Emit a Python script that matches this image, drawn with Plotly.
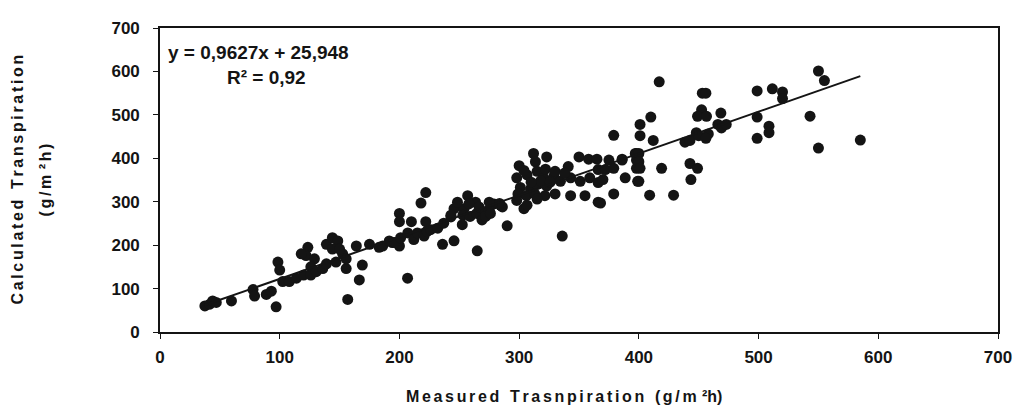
import plotly.graph_objects as go

# Measured (x) and calculated (y) transpiration, g/m2h
measured = [
    37.5, 41.6, 44, 47, 59.7, 77.7, 79, 88.8, 93, 97, 98.5, 100, 102.5, 108, 114, 120, 126,
    123.5, 122, 118, 129, 126, 130.5, 136, 139, 144, 148.5, 144, 139, 147, 152.6, 155.5,
    156.8, 150, 155.5,
    164, 166.5, 169, 175, 183, 186, 191.5, 194, 200, 196, 201, 207, 212, 215, 220.6, 223,
    226, 232, 237, 243, 200, 200, 210, 222, 222, 218, 206.8, 236, 245.6, 265, 245.6, 254,
    243, 253, 259, 264.6, 252.5, 269, 248.5, 257, 263.6, 258, 266.5, 272, 279, 284.5, 275,
    272, 275, 283.6, 286, 290, 276, 304,
    300, 312, 323, 313.6, 341, 350, 358, 365, 375, 386, 398,
    298, 306.6, 315, 320.6, 329, 334.5, 343, 351, 359,
    301, 309.5, 315, 323, 299, 306, 313, 321.5, 330, 298, 306.6, 315,
    343, 355, 366, 379, 336, 366, 372, 379, 386, 397, 398, 398, 388.6, 399, 366, 370,
    409, 429, 368, 318, 326, 310, 304, 322, 330, 338,
    400, 400, 401, 400, 401, 401, 410, 412, 419, 417, 438.5, 442.7, 442.7, 449, 443.5,
    448, 450, 458, 456, 452.4, 449, 456.5, 466, 469, 473, 468.5, 453, 456, 498.8, 511.5,
    520, 520, 550, 555, 543, 585, 550, 498.8, 498.8, 508.7, 508.7, 379,
]
calculated = [
    60, 64, 71.6, 68, 71.6, 97.8, 82.8, 86.6, 94, 58, 161, 142.5, 116, 116, 124, 131, 131,
    195, 176, 180, 168.5, 150, 139, 146, 202, 217, 209.6, 191, 157, 161, 180, 146,
    75, 191, 168.5,
    198, 120, 154, 202, 195, 198, 209.6, 206, 198, 206, 217, 228, 213, 228, 221, 232,
    235.6, 239, 250.6, 265, 273, 254, 254, 254, 321, 297, 124, 202, 210, 187, 284, 284,
    269, 269, 266, 273, 247, 258, 299, 314, 299, 295, 288, 276.7, 295, 291.6, 280,
    266, 299, 296, 288, 244.5, 273, 284,
    383, 411, 403, 392, 381, 403, 398, 398, 396, 398, 411,
    355, 362, 370, 355, 359, 347, 355, 347, 355,
    333, 329, 340, 336, 318, 314, 318, 314, 318, 303, 292, 306,
    314, 314, 299, 318, 221, 374, 374, 377, 396, 411, 396, 377, 355, 347, 344, 351,
    315, 315, 297, 348, 345, 345, 372, 375, 370, 366,
    411, 392, 377, 347, 478, 452, 495, 441, 377, 576, 437, 441, 388, 377, 351,
    459, 452, 456, 446, 511.6, 496.6, 496.6, 478, 470, 478, 504, 550, 550, 555, 560,
    552.6, 537.6, 601, 579, 497, 442, 423.5, 495, 446, 474, 459, 453,
]

# Linear trend from the chart
slope = 0.9627
intercept = 25.948
trend_x = [min(measured), max(measured)]
trend_y = [slope * v + intercept for v in trend_x]

x_ticks = [0, 100, 200, 300, 400, 500, 600, 700]
y_ticks = [0, 100, 200, 300, 400, 500, 600, 700]

SP = "\u2006"
WORD = "\u2002\u2006"


def spaced(s):
    out = []
    for i, ch in enumerate(s):
        if ch == " ":
            out.append(WORD)
            continue
        out.append(ch)
        if i < len(s) - 1 and s[i + 1] != " ":
            out.append(SP)
    return "".join(out)


FONT = "Liberation Sans, Arial, sans-serif"
INK = "#141414"

# page body has an 8px default margin: plot area = 160..1001 px, 19..332 px
fig = go.Figure()
fig.add_trace(go.Scatter(
    x=measured, y=calculated, mode="markers",
    marker=dict(color=INK, size=11, line=dict(width=0)),
    showlegend=False,
))
fig.add_trace(go.Scatter(
    x=trend_x, y=trend_y, mode="lines",
    line=dict(color=INK, width=2), showlegend=False,
))

axis_common = dict(
    showgrid=False, zeroline=False, showline=True, linecolor=INK, linewidth=1.6,
    mirror=True, ticks="outside", ticklen=5, tickwidth=1.3, tickcolor=INK,
    tickfont=dict(family=FONT, size=17, color=INK, weight="bold"),
)

fig.update_layout(
    width=1015, height=404,
    margin=dict(l=152, r=22, t=11, b=80),
    paper_bgcolor="white", plot_bgcolor="white",
    xaxis=dict(range=[0, 700], tickvals=x_ticks, ticklabelstandoff=4, **axis_common),
    yaxis=dict(range=[0, 700], tickvals=y_ticks, ticklabelstandoff=10, **axis_common),
    annotations=[
        dict(text=spaced("Measured Trasnpiration (g/m") + SP + SP + "²h)",
             xref="paper", yref="paper", x=0.4816, y=-0.211,
             xanchor="center", yanchor="middle", showarrow=False,
             font=dict(family=FONT, size=16, color=INK, weight="bold")),
        dict(text=spaced("Calculated Transpiration"),
             xref="paper", yref="paper", x=-0.1712, y=0.5,
             xanchor="center", yanchor="middle", textangle=-90, showarrow=False,
             font=dict(family=FONT, size=16, color=INK, weight="bold")),
        dict(text=spaced("(g/m") + SP + SP + "²" + SP + spaced("h)"),
             xref="paper", yref="paper", x=-0.1367, y=0.5,
             xanchor="center", yanchor="middle", textangle=-90, showarrow=False,
             font=dict(family=FONT, size=16, color=INK, weight="bold")),
        dict(text="y = 0,9627x + 25,948",
             xref="paper", yref="paper", x=(166 - 160) / 841, y=(332 - 44) / 313,
             xanchor="left", yanchor="middle", showarrow=False,
             font=dict(family=FONT, size=19, color=INK, weight="bold")),
        dict(text="R² = 0,92",
             xref="paper", yref="paper", x=(225 - 160) / 841, y=(332 - 70) / 313,
             xanchor="left", yanchor="middle", showarrow=False,
             font=dict(family=FONT, size=19, color=INK, weight="bold")),
    ],
)

fig.write_html("out.html")
